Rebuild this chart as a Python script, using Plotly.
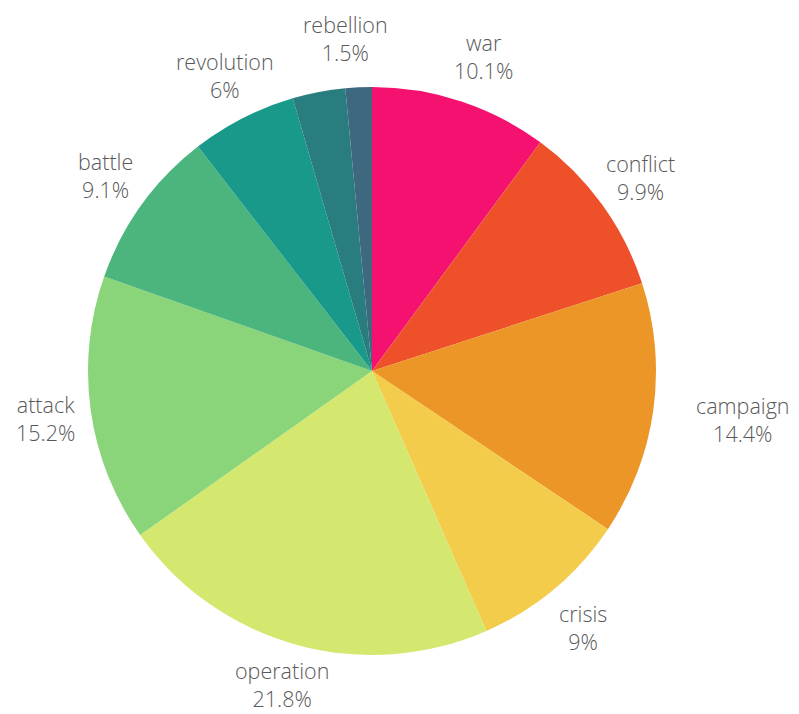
import plotly.graph_objects as go

labels = ["war", "conflict", "campaign", "crisis", "operation", "attack",
          "battle", "revolution", "uprising", "rebellion"]
values = [10.1, 9.9, 14.4, 9.0, 21.8, 15.2, 9.1, 6.0, 3.0, 1.5]
colors = ["#F5116F", "#EE502A", "#EC9627", "#F2CC4A", "#D4E76F", "#8AD47A",
          "#4BB57D", "#18998A", "#2A7D7F", "#3E6880"]
show_label = [True, True, True, True, True, True, True, True, False, True]

FONT = dict(family="Open Sans", size=21.5, color="#595959", weight=300)

W, H = 799, 714
ML, MR, MT, MB = 80, 151, 79, 67
pw, ph = W - ML - MR, H - MT - MB
OFF = 8  # page body margin in the browser

fig = go.Figure(go.Pie(
    labels=labels,
    values=values,
    marker=dict(colors=colors, line=dict(width=0)),
    sort=False,
    direction="clockwise",
    rotation=0,
    textinfo="none",
    automargin=False,
    showlegend=False,
    hoverinfo="label+percent",
))

# outside slice labels (label + percent computed from the data)
label_px = {  # label-block centres in screen pixels
    "war": (483, 57), "conflict": (640, 177), "campaign": (743, 420),
    "crisis": (583, 627), "operation": (282, 684), "attack": (45, 418),
    "battle": (105, 175), "revolution": (225, 75), "rebellion": (345, 38),
}
total = sum(values)
for lab, val, show in zip(labels, values, show_label):
    if not show:
        continue
    pct = f"{val / total * 100:.3g}"
    px, py = label_px[lab]
    fig.add_annotation(
        text=f"{lab}<br>{pct}%", showarrow=False,
        xref="paper", yref="paper",
        x=(px - OFF - ML) / pw, y=(H - MB - (py - OFF)) / ph,
        xanchor="center", yanchor="middle",
        font=FONT,
    )

fig.update_layout(
    width=W, height=H,
    margin=dict(l=ML, r=MR, t=MT, b=MB),
    paper_bgcolor="white",
    font=dict(family="Open Sans"),
)

fig.write_html("out.html")
